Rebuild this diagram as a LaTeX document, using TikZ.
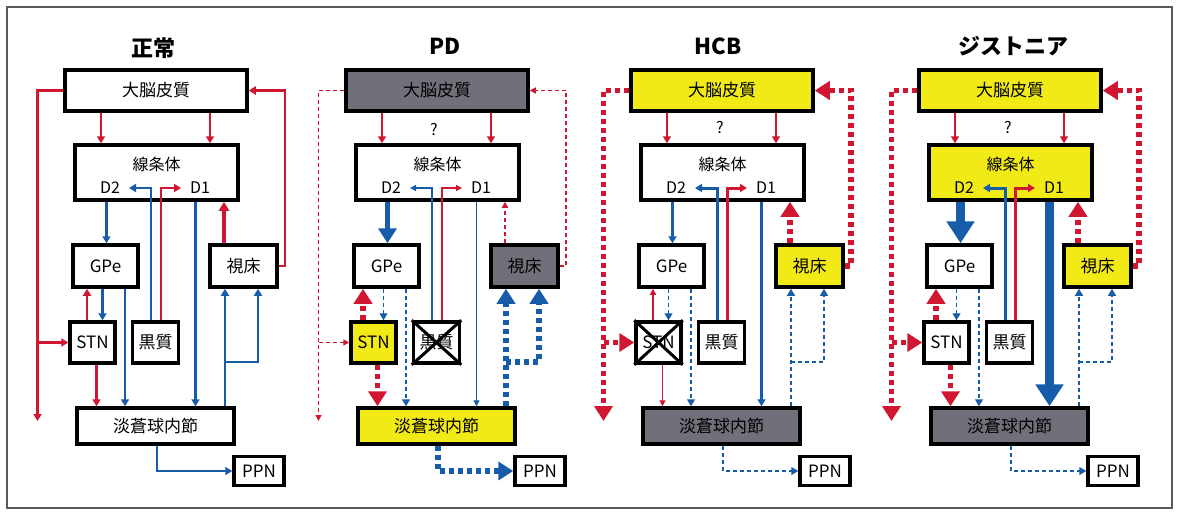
\documentclass[tikz,border=0pt]{standalone}
\usepackage{fontspec}
\setmainfont{Noto Sans CJK JP}
\usetikzlibrary{arrows.meta}
\definecolor{rd}{RGB}{208,22,48}
\definecolor{bl}{RGB}{22,92,168}
\definecolor{yl}{RGB}{242,234,22}
\definecolor{gy}{RGB}{112,112,122}
\definecolor{fr}{RGB}{90,90,90}
\tikzset{
  box/.style={draw=black, line width=3.5pt, fill=white, inner sep=0pt, font=\fontsize{17}{19}\selectfont},
  lbl/.style={inner sep=0pt, font=\fontsize{16}{18}\selectfont},
  ttl/.style={inner sep=0pt, font=\fontsize{22}{24}\selectfont\bfseries},
  tthin/.style={-{Triangle[width=6pt,length=6pt]}},
  tsmall/.style={-{Triangle[width=8pt,length=7pt]}},
  tbig/.style={-{Triangle[width=18pt,length=15pt]}},
  thuge/.style={-{Triangle[width=27pt,length=22pt]}},
  dotthick/.style={line width=5.5pt, dash pattern=on 5pt off 4pt},
  dashthin/.style={line width=1.4pt, dash pattern=on 4pt off 3pt},
  crs/.style={draw=black, line width=3pt}
}
\newcommand\mknodes[6]{%
 \node[box, fill=#2, minimum width=182pt, minimum height=41pt] (#1ctx) at (156,90.5) {大脳皮質};
 \node[box, fill=#3, minimum width=163pt, minimum height=55pt] (#1str) at (156.5,172.5) {};
 \node[lbl] (#1strl) at (156.5,164) {線条体};
 \node[lbl] (#1dtwo) at (110,188) {D2};
 \node[lbl] (#1done) at (200,188) {D1};
 \node[box, minimum width=65pt, minimum height=42pt] (#1gpe) at (105.5,266) {GPe};
 \node[box, fill=#4, minimum width=67pt, minimum height=42pt] (#1th) at (243.5,266) {視床};
 \node[box, fill=#5, minimum width=45pt, minimum height=41pt] (#1stn) at (92.5,342.5) {STN};
 \node[box, minimum width=46pt, minimum height=41pt] (#1sn) at (155.5,342.5) {黒質};
 \node[box, fill=#6, minimum width=157pt, minimum height=36pt] (#1gpi) at (155.5,426) {淡蒼球内節};
 \node[box, minimum width=50pt, minimum height=29pt] (#1ppn) at (259,471) {PPN};
}
\newcommand\wires[1]{%
 \draw[kcs] (101,0 |- #1ctx.south) -- (101,0 |- #1str.north);
 \draw[kcs] (210,0 |- #1ctx.south) -- (210,0 |- #1str.north);
 \coordinate (#1lend) at (37.5,421);
 \draw[klft] (#1ctx.west) -- (37.5,0 |- #1ctx.west) -- (#1lend);
 \draw[klftb] (37.5,0 |- #1stn.west) -- (#1stn.west);
 \draw[krgt] (#1th.east) -- (285,0 |- #1th.east) -- (285,0 |- #1ctx.east) -- (#1ctx.east);
 \draw[kths] (224,0 |- #1th.north) -- (224,0 |- #1str.south);
 \draw[kdg] (106.5,0 |- #1str.south) -- (106.5,0 |- #1gpe.north);
 \draw[ksnb] (151,0 |- #1sn.north) -- (151,188) -- (129,188);
 \draw[ksnr] (161,0 |- #1sn.north) -- (161,188) -- (181,188);
 \draw[kdgpi] (195.5,0 |- #1str.south) -- (195.5,0 |- #1gpi.north);
 \draw[kgs] (102.5,0 |- #1gpe.south) -- (102.5,0 |- #1stn.north);
 \draw[ksg] (\sgx,0 |- #1stn.north) -- (\sgx,0 |- #1gpe.south);
 \draw[kgg] (125,0 |- #1gpe.south) -- (125,0 |- #1gpi.north);
 \draw[ksgpi] (96.5,0 |- #1stn.south) -- (96.5,0 |- #1gpi.north);
 \draw[kgth] (225,0 |- #1gpi.north) -- (225,0 |- #1th.south);
 \draw[kgthb] (225,362) -- (258,362) -- (258,0 |- #1th.south);
 \draw[kppn] (157,0 |- #1gpi.south) |- (#1ppn.west);
}
\begin{document}
\begin{tikzpicture}[x=1pt,y=-1pt]
\path[use as bounding box] (0,0) rectangle (1179,515);
\draw[fr, line width=1.2pt] (7,7) rectangle (1172,508);
% Panel 1: normal
\begin{scope}
\def\sgx{87}
\tikzset{
 kcs/.style={rd, line width=2.6pt, tsmall},
 klft/.style={rd, line width=2.4pt, tsmall},
 klftb/.style={rd, line width=2.4pt, tsmall},
 krgt/.style={rd, line width=2.4pt, tsmall},
 kths/.style={rd, line width=3.6pt, -{Triangle[width=10pt,length=9pt]}},
 kdg/.style={bl, line width=2.4pt, tsmall},
 ksnb/.style={bl, line width=2.6pt, tsmall},
 ksnr/.style={rd, line width=2.6pt, tsmall},
 kdgpi/.style={bl, line width=2.4pt, tsmall},
 kgs/.style={bl, line width=2.4pt, tsmall},
 ksg/.style={rd, line width=2.6pt, tsmall},
 kgg/.style={bl, line width=2.4pt, tsmall},
 ksgpi/.style={rd, line width=2.6pt, tsmall},
 kgth/.style={bl, line width=2.4pt, tsmall},
 kgthb/.style={bl, line width=2.4pt, tsmall},
 kppn/.style={bl, line width=2.4pt, tsmall}
}
\node[ttl] (atitle) at (153,48) {正常};
\mknodes{a}{white}{white}{white}{white}{white}
\wires{a}
\end{scope}
% Panel 2: PD
\begin{scope}[xshift=281pt]
\def\sgx{82}
\tikzset{
 kcs/.style={rd, line width=2.4pt, tsmall},
 klft/.style={rd, dashthin, tthin},
 klftb/.style={rd, dashthin, tthin},
 krgt/.style={rd, dashthin, tthin},
 kths/.style={rd, dashthin, tthin},
 kdg/.style={bl, line width=5.5pt, tbig},
 ksnb/.style={bl, line width=1.3pt, tthin},
 ksnr/.style={rd, line width=1.3pt, tthin},
 kdgpi/.style={bl, line width=1.3pt, tthin},
 kgs/.style={bl, dashthin, tsmall},
 ksg/.style={rd, dotthick, tbig},
 kgg/.style={bl, dashthin, tsmall},
 ksgpi/.style={rd, dotthick, tbig},
 kgth/.style={bl, dotthick, tbig},
 kgthb/.style={bl, dotthick, tbig},
 kppn/.style={bl, dotthick, tbig}
}
\node[ttl] (btitle) at (164,46) {PD};
\mknodes{b}{gy}{white}{gy}{yl}{yl}
\node[lbl] (bq) at (153,130) {?};
\wires{b}
\draw[crs] (bsn.north west) -- (bsn.south east) (bsn.north east) -- (bsn.south west);
\end{scope}
% Panel 3: HCB
\begin{scope}[xshift=566pt]
\def\sgx{87}
\tikzset{
 kcs/.style={rd, line width=2.2pt, tsmall},
 klft/.style={rd, dotthick, tbig},
 klftb/.style={rd, dotthick, tbig},
 krgt/.style={rd, dotthick, tbig},
 kths/.style={rd, dotthick, tbig},
 kdg/.style={bl, line width=2.2pt, tsmall},
 ksnb/.style={bl, line width=3pt, tsmall},
 ksnr/.style={rd, line width=3pt, tsmall},
 kdgpi/.style={bl, line width=3pt, tsmall},
 kgs/.style={bl, dashthin, tsmall},
 ksg/.style={rd, line width=1.3pt, tthin},
 kgg/.style={bl, dashthin, tsmall},
 ksgpi/.style={rd, line width=1.3pt, tthin},
 kgth/.style={bl, dashthin, tsmall},
 kgthb/.style={bl, dashthin, tsmall},
 kppn/.style={bl, dashthin, tsmall}
}
\node[ttl] (ctitle) at (152,46) {HCB};
\mknodes{c}{yl}{white}{yl}{white}{gy}
\node[lbl] (cq) at (154,128) {?};
\wires{c}
\draw[crs] (cstn.north west) -- (cstn.south east) (cstn.north east) -- (cstn.south west);
\end{scope}
% Panel 4: dystonia
\begin{scope}[xshift=854pt]
\def\sgx{82}
\tikzset{
 kcs/.style={rd, line width=2.2pt, tsmall},
 klft/.style={rd, dotthick, tbig},
 klftb/.style={rd, dotthick, tbig},
 krgt/.style={rd, dotthick, tbig},
 kths/.style={rd, dotthick, tbig},
 kdg/.style={bl, line width=9pt, thuge},
 ksnb/.style={bl, line width=3pt, tsmall},
 ksnr/.style={rd, line width=3pt, tsmall},
 kdgpi/.style={bl, line width=9pt, thuge},
 kgs/.style={bl, dashthin, tsmall},
 ksg/.style={rd, dotthick, tbig},
 kgg/.style={bl, dashthin, tsmall},
 ksgpi/.style={rd, dotthick, tbig},
 kgth/.style={bl, dashthin, tsmall},
 kgthb/.style={bl, dashthin, tsmall},
 kppn/.style={bl, dashthin, tsmall}
}
\node[ttl] (dtitle) at (159,46) {ジストニア};
\mknodes{d}{yl}{yl}{yl}{white}{gy}
\node[lbl] (dq) at (154,128) {?};
\wires{d}
\end{scope}
\end{tikzpicture}
\end{document}
